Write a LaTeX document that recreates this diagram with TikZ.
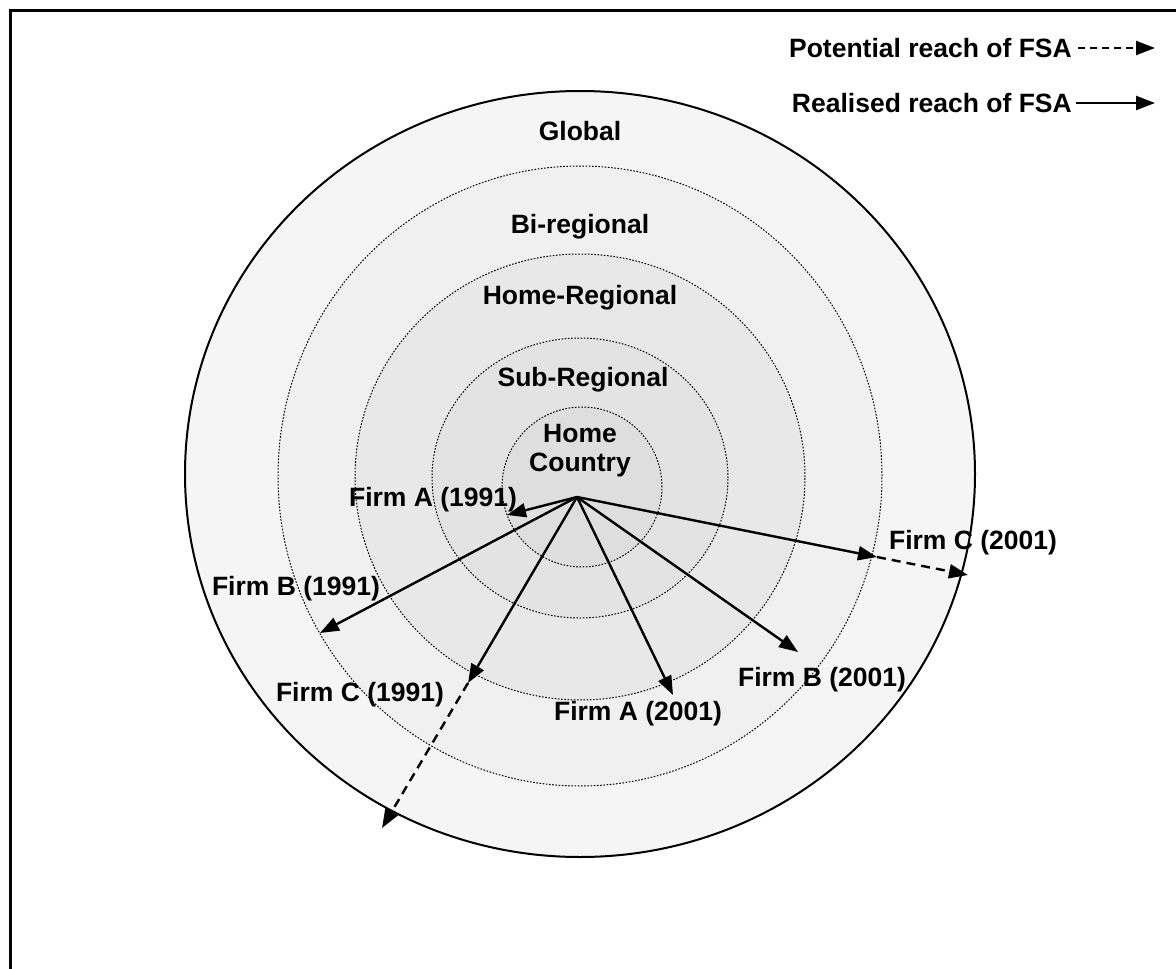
\documentclass[tikz,border=0pt]{standalone}
\usepackage{fontspec}
\setmainfont{Liberation Sans}
\usetikzlibrary{arrows.meta}
\begin{document}
\begin{tikzpicture}[x=1pt,y=-1pt,
  lbl/.style={font=\fontsize{26.5}{30}\selectfont\bfseries, inner sep=0pt, align=center},
  ring/.style={draw, line width=1pt, dash pattern=on 1.6pt off 1.6pt},
  reach/.style={line width=2.4pt, -{Triangle[length=19pt,width=14pt]}},
  potential/.style={reach, dash pattern=on 9pt off 6pt}]
\useasboundingbox (0,0) rectangle (1176,969);
% frame
\draw[line width=3pt] (1180,10) -- (10,10) -- (10,975);
% rings
\fill[fill=black!4] (580,474) ellipse [x radius=395pt, y radius=383pt];
\draw[line width=2pt] (580,474) ellipse [x radius=395pt, y radius=383pt];
\path[ring, fill=black!6] (580,476) ellipse [x radius=302pt, y radius=310pt];
\path[ring, fill=black!9] (580,477) ellipse [x radius=225pt, y radius=223pt];
\path[ring, fill=black!11] (580,478) ellipse [x radius=148pt, y radius=140pt];
\path[ring, fill=black!13] (582,487) ellipse [x radius=80pt, y radius=80pt];
% ring labels
\node[lbl] (glob) at (580,131) {Global};
\node[lbl] (bireg) at (580,227) {Bi-regional};
\node[lbl] (homereg) at (580,298) {Home-Regional};
\node[lbl] (subreg) at (583,380) {Sub-Regional};
\node[lbl] (home) at (580,451) {Home\\[-1pt]Country};
% arrow end points
\coordinate (O) at (577,497);
\coordinate (A91) at (507,515);
\coordinate (B91) at (320,633);
\coordinate (C91) at (468,683);
\coordinate (C91p) at (382,828);
\coordinate (A01) at (673,695);
\coordinate (B01) at (798,652);
\coordinate (C01) at (877,557);
\coordinate (C01p) at (968,575);
\draw[reach] (O) -- (A91);
\draw[reach] (O) -- (B91);
\draw[reach] (O) -- (C91);
\draw[potential] (C91) -- (C91p);
\draw[reach] (O) -- (A01);
\draw[reach] (O) -- (B01);
\draw[reach] (O) -- (C01);
\draw[potential] (C01) -- (C01p);
% firm labels
\node[lbl] (lA91) at (433,500) {Firm A (1991)};
\node[lbl] (lB91) at (296,589) {Firm B (1991)};
\node[lbl] (lC91) at (360,695) {Firm C (1991)};
\node[lbl] (lA01) at (638,714) {Firm A (2001)};
\node[lbl] (lB01) at (822,680) {Firm B (2001)};
\node[lbl] (lC01) at (973,543) {Firm C (2001)};
% legend
\node[lbl, anchor=east] (legP) at (1072,48) {Potential reach of FSA};
\node[lbl, anchor=east] (legR) at (1072,103) {Realised reach of FSA};
\coordinate (legPe) at (1155,48);
\coordinate (legRe) at (1155,103);
\draw[potential, dash pattern=on 7pt off 5pt] ([xshift=6pt]legP.east) -- (legPe);
\draw[reach] ([xshift=4pt]legR.east) -- (legRe);
\end{tikzpicture}
\end{document}
